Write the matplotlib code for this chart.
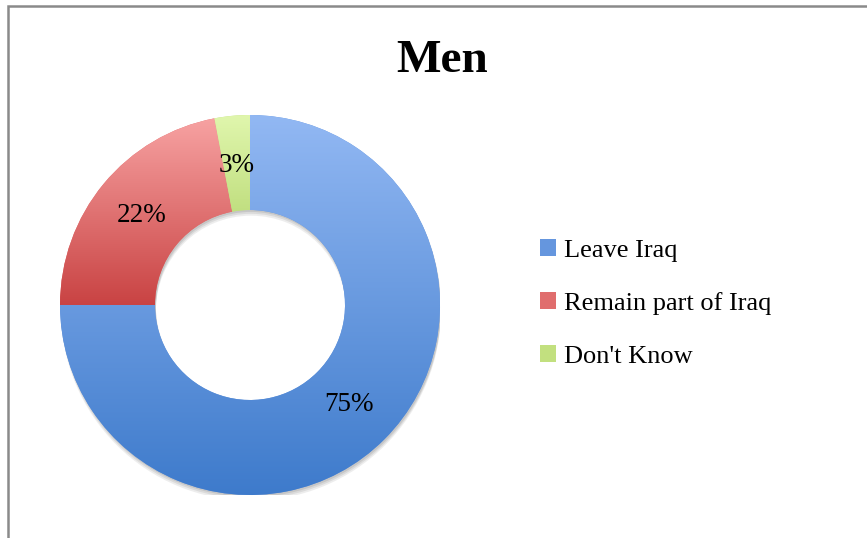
import matplotlib
matplotlib.use("Agg")
import matplotlib.pyplot as plt
from matplotlib.patches import Rectangle, Patch, Wedge
from matplotlib.colors import LinearSegmentedColormap
import numpy as np

plt.rcParams['font.family'] = ['Liberation Serif', 'DejaVu Serif']

# data
labels = ['Leave Iraq', 'Remain part of Iraq', "Don't Know"]
values = [75, 22, 3]
title = 'Men'

# gradient top / bottom colours per slice
top_cols = ['#92b8f3', '#f7a2a2', '#e0f6ad']
bot_cols = ['#3d7acb', '#c94343', '#a3c955']
mid_cols = ['#6596de', '#e06d6d', '#c2e07f']

W, H = 867, 538
fig = plt.figure(figsize=(W / 100, H / 100), dpi=100, facecolor='white')

# donut axes: centre (250, 305) px, radius 190 px
cx, cy, R = 250, 305, 190
ax = fig.add_axes([(cx - R) / W, (H - cy - R) / H, 2 * R / W, 2 * R / H])
ax.set_xlim(-1, 1)
ax.set_ylim(-1, 1)
ax.axis('off')

# soft shadow under the ring
for k, a in [(0.03, 0.10), (0.02, 0.12), (0.01, 0.15)]:
    ax.add_patch(Wedge((0.005, -k), 1.0, 0, 360, width=0.5, color='#555555',
                       alpha=a, lw=0, zorder=0))

wedges, texts, autotexts = ax.pie(
    values, startangle=90, counterclock=False, radius=1.0,
    colors=mid_cols, wedgeprops=dict(width=0.5, linewidth=0),
    autopct='%1.0f%%', pctdistance=0.74,
    textprops=dict(fontsize=19.5, color='black'))

grad = np.linspace(0, 1, 256).reshape(-1, 1)
for w, c0, c1 in zip(wedges, top_cols, bot_cols):
    verts = w.get_path().vertices
    x0, y0 = verts.min(axis=0)
    x1, y1 = verts.max(axis=0)
    cmap = LinearSegmentedColormap.from_list('g', [c1, c0])
    im = ax.imshow(grad, cmap=cmap, extent=(x0, x1, y0, y1), origin='lower',
                   aspect='auto', zorder=2, interpolation='bilinear')
    im.set_clip_path(w)
for t in autotexts:
    t.set_zorder(5)
ax.set_xlim(-1, 1)
ax.set_ylim(-1, 1)
ax.set_aspect('equal')

fig.text(442 / W, 1 - 61 / H, title, fontsize=34, fontweight='bold',
         ha='center', va='center')

handles = [Patch(facecolor=c, edgecolor='none') for c in mid_cols]
fig.legend(handles, labels, loc='upper left', bbox_to_anchor=(540 / W, 1 - 239 / H),
           frameon=False, fontsize=19, handlelength=0.6, handleheight=0.6,
           handletextpad=0.3, labelspacing=1.15, borderpad=0, borderaxespad=0)

# outer frame (right and bottom edges fall outside the picture)
fig.add_artist(Rectangle((8 / W, -0.1), 2, 1 - 6 / H + 0.1, transform=fig.transFigure,
                         fill=False, edgecolor='#8a8a8a', linewidth=1.8))

fig.savefig('out.png', dpi=100, facecolor='white')
